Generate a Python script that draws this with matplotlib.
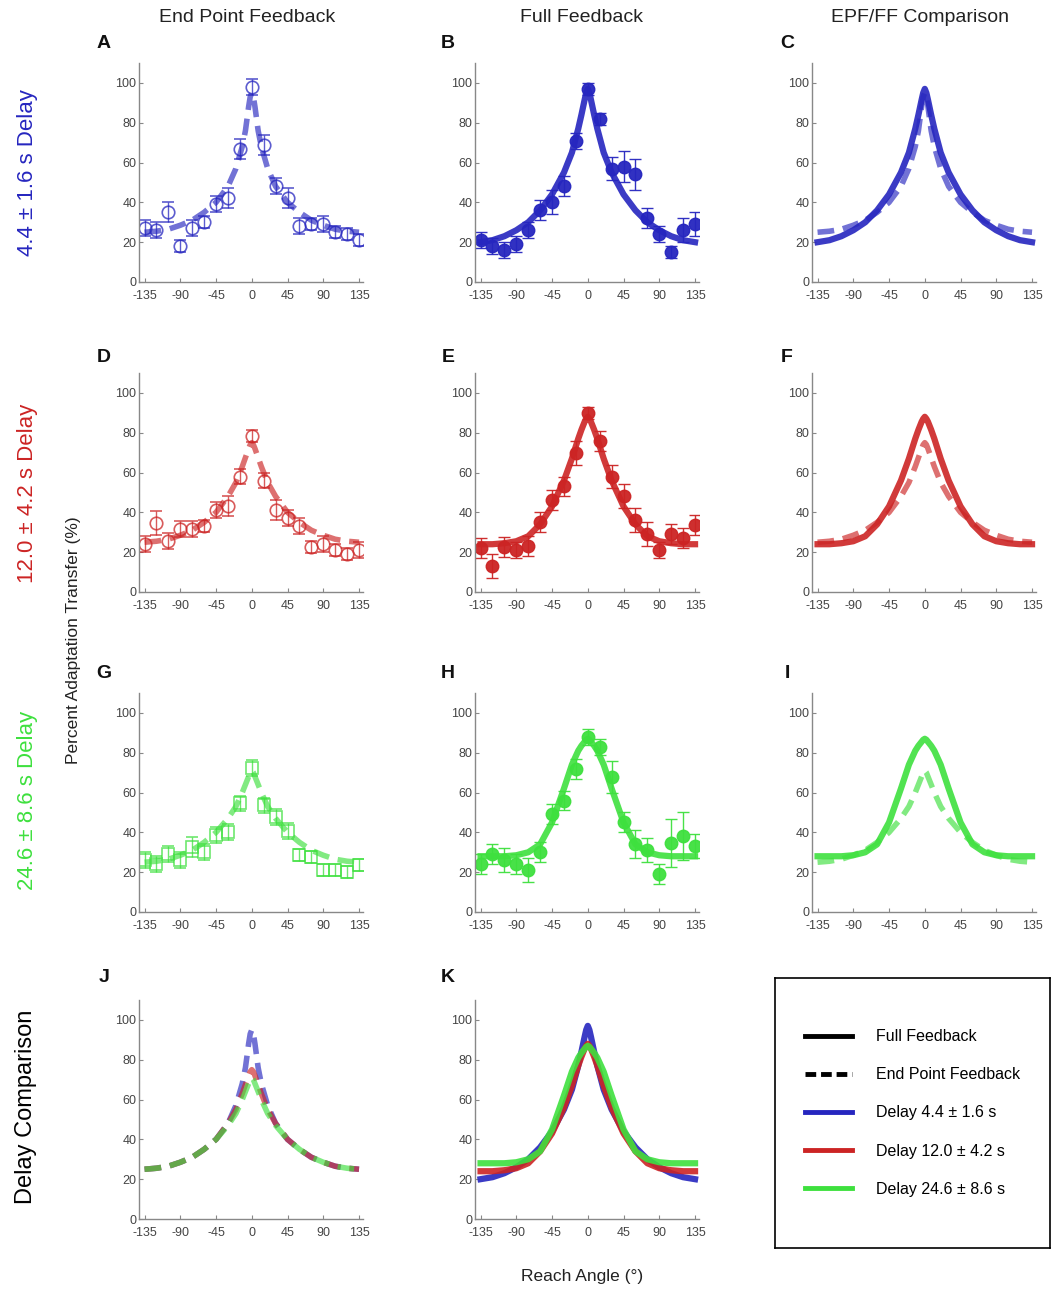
"""Generalisation of adaptation across reach angles: EPF vs FF for three delays."""
import matplotlib

matplotlib.use("Agg")
import matplotlib.pyplot as plt  # noqa: E402
from matplotlib.lines import Line2D  # noqa: E402

plt.rcParams["font.family"] = ["Liberation Sans", "DejaVu Sans"]
plt.rcParams["axes.unicode_minus"] = False

# --- data -------------------------------------------------------------------
ANGLES = [-135, -120, -105, -90, -75, -60, -45, -30, -15, 0,
          15, 30, 45, 60, 75, 90, 105, 120, 135]

# end point feedback (EPF) data, mean and error
epf_short = [27, 26, 35, 18, 27, 30, 39, 42, 67, 98, 69, 48, 42, 28, 29, 29, 25, 24, 21]
epf_short_err = [4, 4, 5, 3, 4, 3, 4, 5, 5, 4, 5, 4, 5, 4, 3, 4, 3, 3, 3]
epf_mid = [24, 34.5, 25.5, 31.5, 31.5, 33, 41, 43, 58, 78.5, 56, 41, 37, 33, 22.5, 24, 21, 19, 21]
epf_mid_err = [4, 6, 4, 4, 4, 3, 4, 5, 4, 3, 4, 5, 4, 4, 3, 4, 3, 3, 4]
epf_long = [26, 24, 29, 26, 32.5, 30, 38.5, 40, 54.5, 72.5, 53.5, 47.5, 40.5, 28.5, 27.5, 21, 21, 20, 23.5]
epf_long_err = [4, 4, 4, 4, 5, 4, 4, 4, 4, 4, 4, 4, 4, 3, 3, 3, 3, 3, 3]

# full feedback (FF) data
ff_short = [21, 18, 16, 19, 26, 36, 40, 48, 71, 97, 82, 57, 58, 54, 32, 24, 15, 26, 29]
ff_short_err = [4, 4, 4, 4, 4, 5, 6, 5, 4, 3, 3, 6, 8, 8, 5, 4, 3, 6, 6]
ff_mid = [22, 13, 22.5, 21, 23, 35, 46, 53, 70, 90, 76, 58, 48, 36, 29, 21, 29, 27, 33.5]
ff_mid_err = [5, 6, 5, 4, 5, 5, 5, 5, 6, 3, 5, 6, 6, 6, 6, 4, 5, 5, 5]
ff_long = [24, 29, 26, 24, 21, 30, 49, 56, 72, 88, 83, 68, 45, 34, 31, 19, 34.5, 38, 33]
ff_long_err = [5, 5, 6, 5, 6, 5, 5, 5, 5, 4, 4, 8, 5, 7, 6, 5, 12, 12, 6]

# fitted curves
FIT_ANGLES = [-135, -120, -105, -90, -75, -60, -45, -30, -20, -12, -8, -4, -2, 0,
              2, 4, 8, 12, 20, 30, 45, 60, 75, 90, 105, 120, 135]
fit_epf_short = [25, 25.5, 26.5, 28.5, 31, 35, 40, 48, 57, 68, 76, 88, 93, 95,
                 93, 88, 76, 68, 57, 48, 40, 35, 31, 28.5, 26.5, 25.5, 25]
fit_epf_mid = [25, 25.5, 26.5, 28.5, 31, 35, 40, 48, 55, 63, 67.5, 72, 74, 75,
               74, 72, 67.5, 63, 55, 48, 40, 35, 31, 28.5, 26.5, 25.5, 25]
fit_epf_long = [25, 25.5, 26.5, 28.5, 31, 35, 40, 47, 53, 60, 64, 68, 70, 71,
                70, 68, 64, 60, 53, 47, 40, 35, 31, 28.5, 26.5, 25.5, 25]
fit_ff_short = [20, 21, 23, 26, 30, 36, 44, 55, 65, 77, 84, 91.5, 95, 97,
                95, 91.5, 84, 77, 65, 55, 44, 36, 30, 26, 23, 21, 20]
fit_ff_mid = [24, 24, 24.5, 25.5, 28, 34, 43, 56, 67, 77, 81.5, 85.5, 87, 88,
              87, 85.5, 81.5, 77, 67, 56, 43, 34, 28, 25.5, 24.5, 24, 24]
fit_ff_long = [28, 28, 28, 28.5, 30, 34, 45, 62, 74, 81, 83.5, 85.5, 86.5, 87,
               86.5, 85.5, 83.5, 81, 74, 62, 45, 34, 30, 28.5, 28, 28, 28]

BLUE = "#2626bf"
RED = "#cc2424"
GREEN = "#3ee03e"
ROW_LABELS = ["4.4 \u00b1 1.6 s Delay", "12.0 \u00b1 4.2 s Delay", "24.6 \u00b1 8.6 s Delay"]
LEGEND_LABELS = ["Full Feedback", "End Point Feedback", "Delay 4.4 \u00b1 1.6 s",
                 "Delay 12.0 \u00b1 4.2 s", "Delay 24.6 \u00b1 8.6 s"]

ROWS = [
    dict(color=BLUE, epf=epf_short, epf_err=epf_short_err, ff=ff_short, ff_err=ff_short_err,
         fit_epf=fit_epf_short, fit_ff=fit_ff_short, epf_marker="o"),
    dict(color=RED, epf=epf_mid, epf_err=epf_mid_err, ff=ff_mid, ff_err=ff_mid_err,
         fit_epf=fit_epf_mid, fit_ff=fit_ff_mid, epf_marker="o"),
    dict(color=GREEN, epf=epf_long, epf_err=epf_long_err, ff=ff_long, ff_err=ff_long_err,
         fit_epf=fit_epf_long, fit_ff=fit_ff_long, epf_marker="s"),
]

W, H = 1054, 1292
COL_LEFT = [139, 475, 812]
ROW_BOTTOM = [282, 592, 912, 1219]
AX_W, AX_H = 224, 219


def style_axes(ax):
    ax.set_xlim(-142, 140)
    ax.set_ylim(0, 110)
    ax.set_xticks([-135, -90, -45, 0, 45, 90, 135])
    ax.set_yticks([0, 20, 40, 60, 80, 100])
    for s in ("top", "right"):
        ax.spines[s].set_visible(False)
    for s in ("left", "bottom"):
        ax.spines[s].set_color("#888888")
        ax.spines[s].set_linewidth(1.0)
    ax.tick_params(direction="in", length=3, width=0.8, color="#888888",
                   labelsize=9, labelcolor="#444444", pad=2)
    ax.tick_params(axis="x", pad=6)


def epf_line(ax, y, color):
    ax.plot(FIT_ANGLES, y, ls=(0, (3, 1.6)), lw=4, color=color, alpha=0.65,
            solid_capstyle="butt")


def ff_line(ax, y, color):
    ax.plot(FIT_ANGLES, y, ls="-", lw=4.5, color=color, alpha=0.9)


fig = plt.figure(figsize=(W / 100, H / 100), dpi=100)


def make_ax(row, col):
    return fig.add_axes([COL_LEFT[col] / W, 1 - ROW_BOTTOM[row] / H, AX_W / W, AX_H / H])


for r, d in enumerate(ROWS):
    c = d["color"]
    ax = make_ax(r, 0)
    style_axes(ax)
    epf_line(ax, d["fit_epf"], c)
    ax.errorbar(ANGLES, d["epf"], yerr=d["epf_err"], fmt=d["epf_marker"], ms=9,
                mfc="none", mec=c, ecolor=c, elinewidth=1, capsize=4, mew=1.2, alpha=0.75)

    ax = make_ax(r, 1)
    style_axes(ax)
    ff_line(ax, d["fit_ff"], c)
    ax.errorbar(ANGLES, d["ff"], yerr=d["ff_err"], fmt="o", ms=9, mfc=c, mec=c,
                ecolor=c, elinewidth=1, capsize=4, alpha=0.95)

    ax = make_ax(r, 2)
    style_axes(ax)
    ff_line(ax, d["fit_ff"], c)
    epf_line(ax, d["fit_epf"], c)

# bottom row: delay comparison
ax_j = make_ax(3, 0)
style_axes(ax_j)
for d in ROWS:
    epf_line(ax_j, d["fit_epf"], d["color"])

ax_k = make_ax(3, 1)
style_axes(ax_k)
for d in ROWS:
    ff_line(ax_k, d["fit_ff"], d["color"])

# legend box
ax_leg = fig.add_axes([775 / W, 1 - 1248 / H, 275 / W, 270 / H])
ax_leg.set_xticks([])
ax_leg.set_yticks([])
for s in ax_leg.spines.values():
    s.set_linewidth(1.2)
handles = [
    Line2D([], [], color="black", lw=3.5),
    Line2D([], [], color="black", lw=3.5, ls=(0, (2.2, 1))),
    Line2D([], [], color=BLUE, lw=3.5),
    Line2D([], [], color=RED, lw=3.5),
    Line2D([], [], color=GREEN, lw=3.5),
]
ax_leg.legend(handles, LEGEND_LABELS, loc="center", frameon=False, fontsize=11.5,
              handlelength=3.0, labelspacing=1.45, handletextpad=1.5,
              borderaxespad=0)


# text annotations
def px(x, y):
    return x / W, 1 - y / H


for col, title in zip([247, 582, 920], ["End Point Feedback", "Full Feedback", "EPF/FF Comparison"]):
    fig.text(*px(col, 18), title, ha="center", va="center", fontsize=14, color="#222222")

letter_pos = {"A": (104, 44), "B": (448, 44), "C": (787, 44),
              "D": (104, 358), "E": (448, 358), "F": (787, 358),
              "G": (104, 674), "H": (448, 674), "I": (787, 674),
              "J": (104, 977), "K": (448, 977)}
for k, (x, y) in letter_pos.items():
    fig.text(*px(x, y), k, ha="center", va="center", fontsize=14, fontweight="bold",
             color="#111111")

for (y, label), d in zip([(173, ROW_LABELS[0]), (493, ROW_LABELS[1]), (800, ROW_LABELS[2])], ROWS):
    fig.text(*px(28, y), label, rotation=90, ha="center", va="center",
             fontsize=16, color=d["color"])
fig.text(*px(26, 1107), "Delay Comparison", rotation=90, ha="center", va="center",
         fontsize=17, color="black")
fig.text(*px(74, 640), "Percent Adaptation Transfer (%)", rotation=90, ha="center",
         va="center", fontsize=12.5, color="#222222")
fig.text(*px(582, 1276), "Reach Angle (\u00b0)", ha="center", va="center",
         fontsize=12.5, color="#222222")

fig.savefig("out.png", dpi=100)
plt.close(fig)
